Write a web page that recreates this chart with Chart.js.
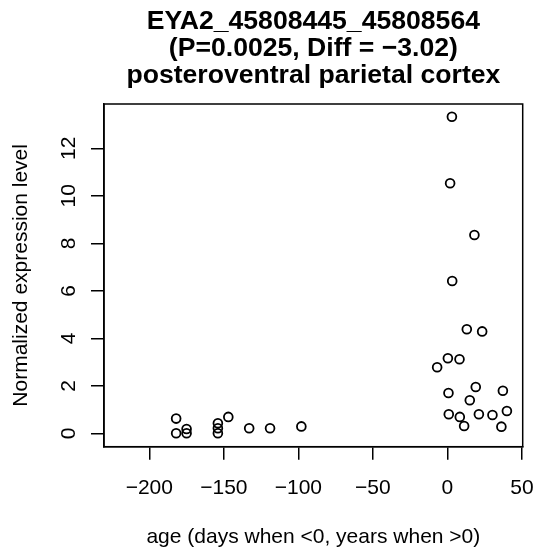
<!DOCTYPE html>
<html><head><meta charset="utf-8">
<script src="https://cdn.jsdelivr.net/npm/chart.js@4/dist/chart.umd.min.js"></script>
<style>html,body{margin:0;padding:0;background:#fff;} #wrap{width:539px;height:557px;}</style>
</head><body><div id="wrap"><canvas id="c" width="539" height="557"></canvas></div>
<script>
const titleLines = ["EYA2_45808445_45808564", "(P=0.0025, Diff = \u22123.02)", "posteroventral parietal cortex"];
const xTitle = "age (days when <0, years when >0)";
const yTitle = "Normalized expression level";
const ages = [3.0, 1.8, 18.1, 3.2, 13.0, 23.3, 0.3, 8.1, -6.9, 19.0, 37.2, 0.7, 15.0, 0.9, 8.3, 21.1, 30.2, 39.9, 11.2, 36.2,
  -182, -182, -175, -175, -154, -154, -154, -147, -133, -119, -98];
const expression = [13.33, 10.53, 8.35, 6.41, 4.38, 4.29, 3.16, 3.12, 2.78, 1.95, 1.79, 1.70, 1.39, 0.80, 0.69, 0.80, 0.77, 0.94, 0.31, 0.28,
  0.62, 0.0, 0.18, 0.0, 0.42, 0.21, 0.0, 0.69, 0.21, 0.21, 0.29];
const xTicks = [-200, -150, -100, -50, 0, 50];
const yTicks = [0, 2, 4, 6, 8, 10, 12];

const FONT = "'Liberation Sans', Arial, Helvetica, sans-serif";
const W = 539, H = 557;
const PLOT = {left: 104, right: 522.7, top: 104, bottom: 446.7};

const boxPlugin = {
  id: 'box',
  afterDraw(chart) {
    const {ctx, chartArea: a} = chart;
    ctx.save();
    ctx.strokeStyle = '#000';
    ctx.lineWidth = 1.5;
    ctx.strokeRect(a.left, a.top, a.right - a.left, a.bottom - a.top);
    ctx.fillStyle = '#000';
    ctx.font = "bold 26.6px " + FONT;
    ctx.textAlign = 'center';
    ctx.textBaseline = 'alphabetic';
    const cx = (a.left + a.right) / 2;
    const base = [28.5, 55.5, 82.5];
    titleLines.forEach((t, i) => ctx.fillText(t, cx, base[i]));
    ctx.restore();
  }
};

const minus = v => String(v).replace('-', '\u2212');

new Chart(document.getElementById('c'), {
  type: 'scatter',
  data: {
    datasets: [{
      data: ages.map((a, i) => ({x: a, y: expression[i]})),
      pointRadius: 4.4,
      pointHoverRadius: 4.4,
      pointBorderWidth: 1.8,
      pointBackgroundColor: 'rgba(0,0,0,0)',
      pointBorderColor: '#000',
      showLine: false
    }]
  },
  options: {
    responsive: false,
    devicePixelRatio: 1,
    animation: false,
    layout: {padding: {top: PLOT.top, right: W - PLOT.right, left: 0, bottom: 0}},
    plugins: {legend: {display: false}, tooltip: {enabled: false}, title: {display: false}},
    scales: {
      x: {
        type: 'linear', position: 'bottom',
        min: -230.4, max: 50.5,
        afterBuildTicks: s => { s.ticks = xTicks.map(v => ({value: v})); },
        afterFit: s => { s.height = H - PLOT.bottom; s.paddingLeft = 0; s.paddingRight = 0; },
        ticks: {callback: v => minus(v), font: {family: FONT, size: 21}, color: '#000', padding: 16, maxRotation: 0, minRotation: 0, autoSkip: false},
        grid: {display: true, drawOnChartArea: false, drawTicks: true, tickLength: 13, color: '#000', lineWidth: 1.5},
        border: {display: true, color: '#000', width: 1.5},
        title: {display: true, text: xTitle, font: {family: FONT, size: 21}, color: '#000', padding: {top: 0, bottom: 7.4}}
      },
      y: {
        type: 'linear', position: 'left',
        min: -0.564, max: 13.865,
        afterBuildTicks: s => { s.ticks = yTicks.map(v => ({value: v})); },
        afterFit: s => { s.width = PLOT.left; s.paddingTop = 0; s.paddingBottom = 0; },
        ticks: {callback: v => minus(v), font: {family: FONT, size: 21}, color: '#000', padding: 10, minRotation: 90, maxRotation: 90, crossAlign: 'center', autoSkip: false},
        grid: {display: true, drawOnChartArea: false, drawTicks: true, tickLength: 13, color: '#000', lineWidth: 1.5},
        border: {display: true, color: '#000', width: 1.5},
        title: {display: true, text: yTitle, font: {family: FONT, size: 21}, color: '#000', padding: {top: 8.5, bottom: 0}}
      }
    }
  },
  plugins: [boxPlugin]
});
</script>
</body></html>
